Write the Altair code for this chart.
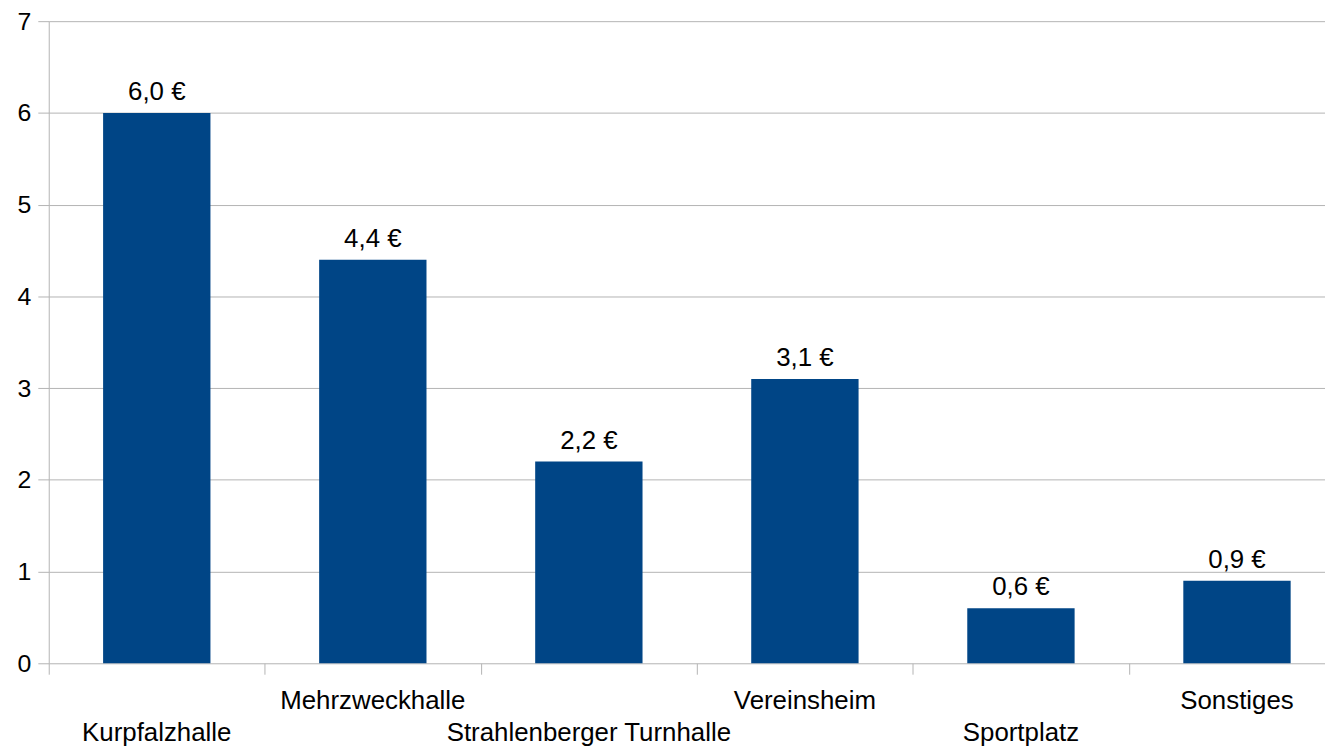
import altair as alt
import pandas as pd

categories = ["Kurpfalzhalle", "Mehrzweckhalle", "Strahlenberger Turnhalle",
              "Vereinsheim", "Sportplatz", "Sonstiges"]
values = [6.0, 4.4, 2.2, 3.1, 0.6, 0.9]
y_ticks = [0, 1, 2, 3, 4, 5, 6, 7]

df = pd.DataFrame({
    "cat": categories,
    "val": values,
    "pos": [i + 0.5 for i in range(len(categories))],
    "lab": [f"{v:.1f}".replace(".", ",") + " €" for v in values],
    "row": [i % 2 for i in range(len(categories))],
})

FONT = "Liberation Sans"
GRAY = "#b3b3b3"
W = 1284          # plot width given to Vega-Lite
W_DRAWN = 1276    # width actually drawn (the reference's plot runs past the right edge)
STEP = 216        # pixels per category in the reference

x = alt.X("pos:Q",
          scale=alt.Scale(domain=[0, W_DRAWN / STEP], nice=False, zero=False, padding=0),
          axis=alt.Axis(values=list(range(len(categories))), labels=False, title=None,
                        ticks=True, tickSize=11, tickColor=GRAY, domain=False, grid=False))
y = alt.Y("val:Q", scale=alt.Scale(domain=[0, 7], nice=False),
          axis=alt.Axis(values=y_ticks, tickSize=11, tickColor=GRAY, domainColor=GRAY,
                        gridColor=GRAY, labelFontSize=25, labelFont=FONT,
                        labelColor="black", labelPadding=7, title=None))

base = alt.Chart(df)
bars = base.mark_bar(color="#004586", width=108).encode(x=x, y=y)
vals = base.mark_text(font=FONT, fontSize=26, baseline="alphabetic", dy=-13,
                      color="black").encode(x=x, y=y, text="lab:N")
lab_hi = base.transform_filter("datum.row == 1").mark_text(
    font=FONT, fontSize=26, baseline="alphabetic", color="black"
).encode(x=x, y=alt.value(692), text="cat:N")
lab_lo = base.transform_filter("datum.row == 0").mark_text(
    font=FONT, fontSize=26, baseline="alphabetic", color="black"
).encode(x=x, y=alt.value(724), text="cat:N")

chart = alt.layer(bars, vals, lab_hi, lab_lo).properties(
    width=W, height=646,
    autosize=alt.AutoSizeParams(type="none"),
    padding={"left": 41, "top": 11, "right": 0, "bottom": 84},
    background="white",
).configure_view(stroke=None)

chart.save("out.html", embed_options={"renderer": "svg", "actions": False})
